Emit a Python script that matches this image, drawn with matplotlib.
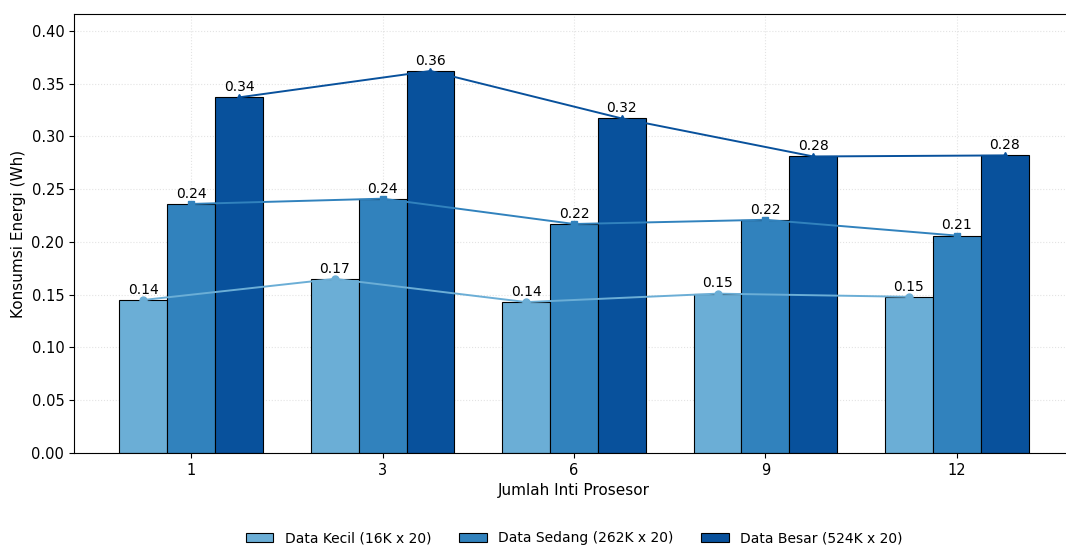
import matplotlib
matplotlib.use("Agg")
import matplotlib.pyplot as plt
import numpy as np

cores = ["1", "3", "6", "9", "12"]
kecil = [0.145, 0.165, 0.143, 0.151, 0.148]
sedang = [0.236, 0.241, 0.217, 0.221, 0.206]
besar = [0.337, 0.362, 0.317, 0.281, 0.282]
labels = ["Data Kecil (16K x 20)", "Data Sedang (262K x 20)", "Data Besar (524K x 20)"]
colors = ["#6baed6", "#3182bd", "#08519c"]
markers = ["o", "s", "^"]

fig = plt.figure(figsize=(10.66, 5.45), dpi=100)
ax = fig.add_axes([74/1066, 92/545, 1000/1066, 439/545])

x = np.arange(len(cores))
w = 0.25
series = [kecil, sedang, besar]
for i, (vals, lab, c, m) in enumerate(zip(series, labels, colors, markers)):
    xs = x + (i - 1) * w
    ax.bar(xs, vals, w, color=c, edgecolor="black", linewidth=0.8, label=lab, zorder=2)
    ax.plot(xs, vals, color=c, marker=m, markersize=5, linewidth=1.4, zorder=3)
    for xx, v in zip(xs, vals):
        ax.text(xx, v + 0.003, f"{v:.2f}", ha="center", va="bottom", fontsize=10, zorder=4)

ax.set_xticks(x)
ax.set_xticklabels(cores, fontsize=10.5)
ax.tick_params(axis="y", labelsize=10.5)
ax.set_yticks(np.arange(0, 0.41, 0.05))
ax.set_ylim(0, 0.416)
ax.set_xlim(-0.6125, 4.6125)
ax.set_xlabel("Jumlah Inti Prosesor", fontsize=11)
ax.set_ylabel("Konsumsi Energi (Wh)", fontsize=11)
ax.grid(True, linestyle=":", alpha=0.35, zorder=0)
ax.set_axisbelow(True)
ax.legend(loc="upper center", bbox_to_anchor=(0.5, -0.15), ncol=3, frameon=False, fontsize=10)

fig.savefig("out.png", dpi=100)
